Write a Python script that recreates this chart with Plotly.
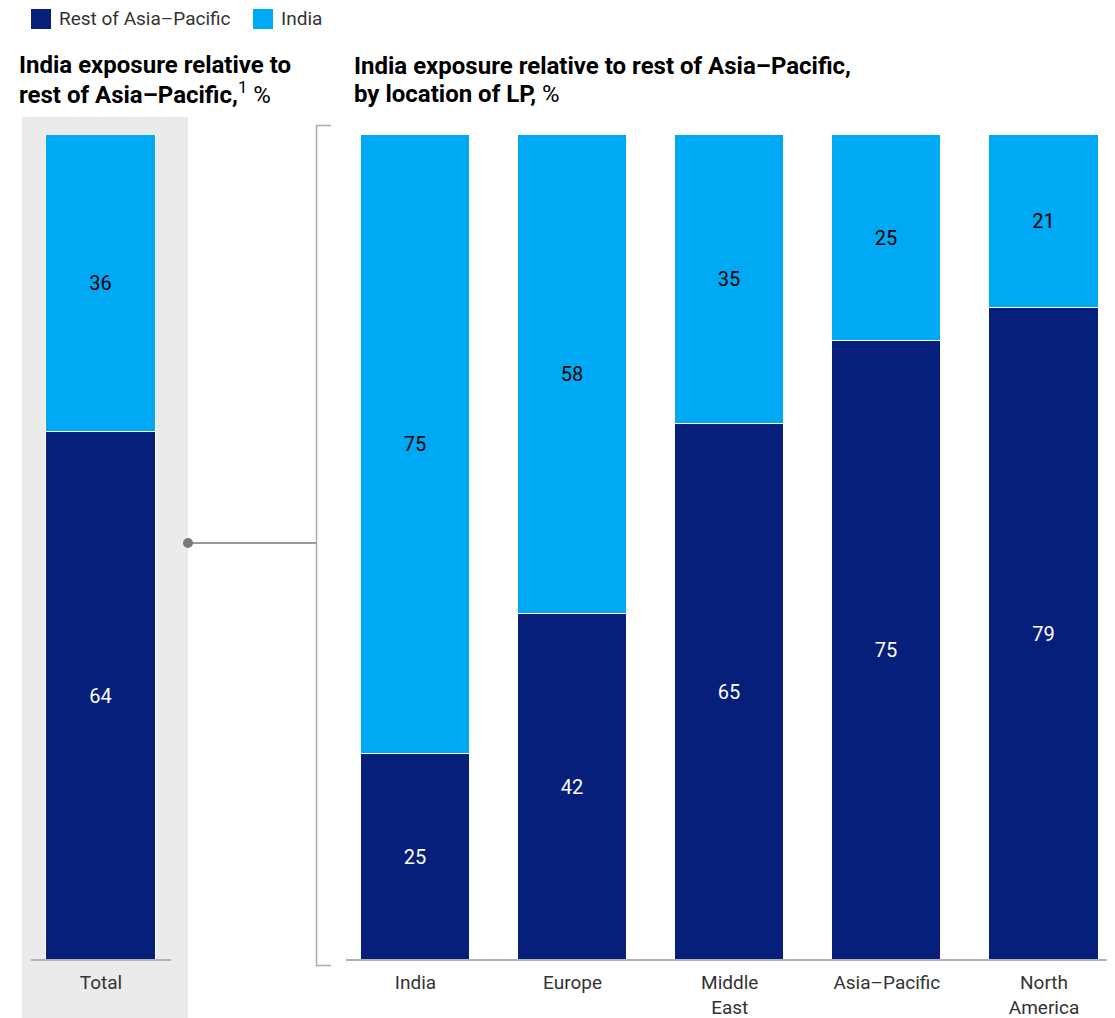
import plotly.graph_objects as go

W, H = 1115, 1018
OFF = 8  # page body margin in the browser

# ---- data ----
total_category = ["Total"]
total_rest = [64]
total_india = [36]

lp_locations = ["India", "Europe", "Middle<br>East", "Asia–Pacific", "North<br>America"]
lp_rest = [25, 42, 65, 75, 79]
lp_india = [75, 58, 35, 25, 21]

series_names = ["Rest of Asia–Pacific", "India"]

DARK = "#061f7a"
LIGHT = "#00a9f4"
FONT = "Roboto"


def px(x):
    return (x - OFF) / W


def py(y):
    return 1 - (y - OFF) / H


y_dom = [py(960), py(135)]

fig = go.Figure()

label_size = 20

# Left panel (Total)
fig.add_trace(go.Bar(
    x=total_category, y=total_rest, name=series_names[0], showlegend=False,
    marker=dict(color=DARK, line=dict(color="white", width=1)),
    text=total_rest, textposition="inside", insidetextanchor="middle",
    textfont=dict(color="white", size=label_size, family=FONT),
    width=0.78, xaxis="x", yaxis="y", hoverinfo="skip"))
fig.add_trace(go.Bar(
    x=total_category, y=total_india, name=series_names[1], showlegend=False,
    marker=dict(color=LIGHT, line=dict(color="white", width=1)),
    text=total_india, textposition="inside", insidetextanchor="middle",
    textfont=dict(color="black", size=label_size, family=FONT),
    width=0.78, xaxis="x", yaxis="y", hoverinfo="skip"))

# Right panel (by location of LP)
fig.add_trace(go.Bar(
    x=lp_locations, y=lp_rest, name=series_names[0], showlegend=False,
    marker=dict(color=DARK, line=dict(color="white", width=1)),
    text=lp_rest, textposition="inside", insidetextanchor="middle",
    textfont=dict(color="white", size=label_size, family=FONT),
    width=0.694, xaxis="x2", yaxis="y2", hoverinfo="skip"))
fig.add_trace(go.Bar(
    x=lp_locations, y=lp_india, name=series_names[1], showlegend=False,
    marker=dict(color=LIGHT, line=dict(color="white", width=1)),
    text=lp_india, textposition="inside", insidetextanchor="middle",
    textfont=dict(color="black", size=label_size, family=FONT),
    width=0.694, xaxis="x2", yaxis="y2", hoverinfo="skip"))

tickfont = dict(size=19, color="#333333", family=FONT)

fig.update_layout(
    width=W, height=H,
    margin=dict(l=0, r=0, t=0, b=0),
    paper_bgcolor="white", plot_bgcolor="rgba(0,0,0,0)",
    barmode="stack",
    bargap=0,
    font=dict(family=FONT, color="#111111"),
    showlegend=False,
    xaxis=dict(domain=[px(31), px(171)], range=[-0.5, 0.5], showgrid=False,
               zeroline=False, showline=False, ticks="", tickfont=tickfont,
               ticklabelstandoff=9, fixedrange=True),
    yaxis=dict(domain=y_dom, range=[0, 100], visible=False, fixedrange=True),
    xaxis2=dict(domain=[px(346), px(1115)], range=[-0.442, 4.452], showgrid=False,
                zeroline=False, showline=False, ticks="", tickfont=tickfont,
                ticklabelstandoff=9, anchor="y2", fixedrange=True),
    yaxis2=dict(domain=y_dom, range=[0, 100], visible=False, anchor="x2",
                fixedrange=True),
)

shapes = []
# grey background for Total panel
shapes.append(dict(type="rect", xref="paper", yref="paper", x0=px(22), x1=px(188),
                   y0=py(1018), y1=py(117), fillcolor="#ebebeb", line=dict(width=0),
                   layer="below"))
# baselines
shapes.append(dict(type="line", xref="paper", yref="paper", x0=px(31), x1=px(171),
                   y0=py(960), y1=py(960), line=dict(color="#b4b4b4", width=2), layer="above"))
shapes.append(dict(type="line", xref="paper", yref="paper", x0=px(346), x1=px(1115),
                   y0=py(960), y1=py(960), line=dict(color="#b4b4b4", width=2), layer="above"))
# bracket
shapes.append(dict(type="line", xref="paper", yref="paper", x0=px(316.5), x1=px(316.5),
                   y0=py(125), y1=py(966), line=dict(color="#aaaaaa", width=1.5)))
shapes.append(dict(type="line", xref="paper", yref="paper", x0=px(316), x1=px(331),
                   y0=py(125.5), y1=py(125.5), line=dict(color="#aaaaaa", width=1.5)))
shapes.append(dict(type="line", xref="paper", yref="paper", x0=px(316), x1=px(331),
                   y0=py(965.5), y1=py(965.5), line=dict(color="#aaaaaa", width=1.5)))
# connector
shapes.append(dict(type="line", xref="paper", yref="paper", x0=px(188), x1=px(316),
                   y0=py(543), y1=py(543), line=dict(color="#777777", width=1.5)))
shapes.append(dict(type="circle", xref="paper", yref="paper", x0=px(183), x1=px(193),
                   y0=py(548), y1=py(538), fillcolor="#7a7a7a", line=dict(width=0)))
# legend swatches
shapes.append(dict(type="rect", xref="paper", yref="paper", x0=px(31), x1=px(51),
                   y0=py(29), y1=py(9), fillcolor=DARK, line=dict(width=0)))
shapes.append(dict(type="rect", xref="paper", yref="paper", x0=px(253), x1=px(273),
                   y0=py(29), y1=py(9), fillcolor=LIGHT, line=dict(width=0)))
fig.update_layout(shapes=shapes)

legend_font = dict(size=19, color="#333333", family=FONT)
fig.add_annotation(xref="paper", yref="paper", x=px(57), y=py(19), xanchor="left",
                   yanchor="middle", showarrow=False, font=legend_font, text=series_names[0])
fig.add_annotation(xref="paper", yref="paper", x=px(279), y=py(19), xanchor="left",
                   yanchor="middle", showarrow=False, font=legend_font, text=series_names[1])

title_font = dict(size=24, color="#000000", family=FONT)
left_title = ["<b>India exposure relative to</b>",
              "<b>rest of Asia–Pacific,</b><sup>1</sup> %"]
right_title = ["<b>India exposure relative to rest of Asia–Pacific,</b>",
               "<b>by location of LP,</b> %"]
for i, line in enumerate(left_title):
    fig.add_annotation(xref="paper", yref="paper", x=px(17), y=py(65 + 28 * i),
                       xanchor="left", yanchor="middle", showarrow=False,
                       font=title_font, text=line)
for i, line in enumerate(right_title):
    fig.add_annotation(xref="paper", yref="paper", x=px(352), y=py(66 + 28 * i),
                       xanchor="left", yanchor="middle", showarrow=False,
                       font=title_font, text=line)

fig.write_html("out.html")
